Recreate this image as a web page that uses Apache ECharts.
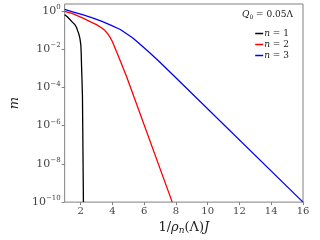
<!DOCTYPE html>
<html><head><meta charset="utf-8">
<script src="https://cdn.jsdelivr.net/npm/echarts@6/dist/echarts.min.js"></script>
<style>html,body{margin:0;padding:0;background:#fff}#c{width:320px;height:240px}</style>
</head><body><div id="c"></div>
<script>
// curves: x = 1/rho_n(Lambda) J, m values
const xN1 = [1.0, 1.15, 1.33, 1.5, 1.63, 1.74, 1.82, 1.88, 1.92, 1.97, 2.02, 2.04, 2.06, 2.09, 2.12, 2.18];
const mN1 = [0.63, 0.5, 0.35, 0.25, 0.195, 0.138, 0.089, 0.066, 0.05, 0.032, 0.0155, 0.0063, 0.0015, 2.5e-4, 3.2e-5, 1e-10];
const xN2 = [1.0, 1.5, 2.12, 2.7, 3.0, 3.31, 3.5, 3.71, 3.85, 4.0, 4.15, 4.3, 4.9, 7.77];
const mN2 = [0.93, 0.72, 0.43, 0.25, 0.19, 0.13, 0.1, 0.063, 0.042, 0.025, 0.0126, 0.0063, 3.6e-4, 1e-10];
const xN3 = [1.0, 1.5, 2.12, 2.7, 3.31, 3.9, 4.5, 4.9, 5.29, 5.6, 5.89, 6.3, 6.88, 7.87, 16.0];
const mN3 = [1.2, 0.89, 0.63, 0.44, 0.29, 0.18, 0.105, 0.063, 0.038, 0.023, 0.014, 0.0071, 0.0025, 4e-4, 1e-10];
const xTicks = [2, 4, 6, 8, 10, 12, 14, 16];
const yTicks = [1e-10, 1e-8, 1e-6, 1e-4, 1e-2, 1];
const seriesNames = ['n = 1', 'n = 2', 'n = 3'];
const colors = ['#000000', '#ff0000', '#0000ff'];

const pair = (xs, ys) => xs.map((x, i) => [x, ys[i]]);
const serif = 'DejaVu Serif';
const mk = (i, xs, ys) => ({
  name: seriesNames[i], type: 'line', data: pair(xs, ys), smooth: false,
  symbol: 'none', lineStyle: {color: colors[i], width: 1.3, join: 'round'}, itemStyle: {color: colors[i]}
});
const chart = echarts.init(document.getElementById('c'), null, {renderer: 'canvas'});
chart.setOption({
  animation: false,
  grid: {left: 51, right: 17, top: 4, bottom: 32, show: true, borderColor: '#808080', borderWidth: 1},
  xAxis: {
    type: 'value', min: 1, max: 16,
    name: '{r|1/}{i|ρ}{s|n}{r|(Λ)}{i|J}', nameLocation: 'middle', nameGap: 17,
    nameTextStyle: {rich: {
      r: {fontFamily: serif, fontSize: 13, color: '#222'},
      i: {fontFamily: serif, fontStyle: 'italic', fontSize: 13, color: '#222'},
      s: {fontFamily: serif, fontStyle: 'italic', fontSize: 9, color: '#222', verticalAlign: 'bottom', padding: [6, 0, 0, 0]}
    }},
    axisLine: {show: false},
    splitLine: {show: false},
    axisTick: {show: true, length: 3, lineStyle: {color: '#808080'}, customValues: xTicks},
    axisLabel: {customValues: xTicks, fontFamily: serif, fontSize: 10, color: '#444', margin: 4}
  },
  yAxis: {
    type: 'log', logBase: 10, min: 1e-10, max: 2.27,
    name: 'm', nameLocation: 'middle', nameGap: 38, nameRotate: 90,
    nameTextStyle: {fontFamily: serif, fontStyle: 'italic', fontSize: 13, color: '#222'},
    axisLine: {show: false},
    splitLine: {show: false},
    axisTick: {show: true, length: 3, lineStyle: {color: '#808080'}, customValues: yTicks},
    axisLabel: {
      customValues: yTicks, margin: 4,
      formatter: v => {
        const e = Math.round(Math.log10(v));
        return '{b|10}{e|' + (e < 0 ? '−' + (-e) : e) + '}';
      },
      rich: {
        b: {fontFamily: serif, fontSize: 11, color: '#444'},
        e: {fontFamily: serif, fontSize: 7, color: '#444', verticalAlign: 'top', padding: [0, 0, 7, 0]}
      }
    }
  },
  legend: {
    orient: 'vertical', right: 26, top: 24, itemWidth: 8, itemHeight: 1.5, itemGap: 2,
    icon: 'rect',
    data: seriesNames,
    formatter: n => '{i|n}{r| = ' + n.slice(4) + '}',
    textStyle: {padding: [0, 0, 0, -4], rich: {
      i: {fontFamily: serif, fontStyle: 'italic', fontSize: 9, color: '#222', height: 10},
      r: {fontFamily: serif, fontSize: 9, color: '#222', height: 10}
    }}
  },
  graphic: [{
    type: 'text', right: 27, top: 10,
    style: {
      text: '{i|Q}{s|0}{r| = 0.05Λ}',
      rich: {
        i: {fontFamily: serif, fontStyle: 'italic', fontSize: 9, fill: '#222'},
        s: {fontFamily: serif, fontSize: 6, fill: '#222', padding: [5, 0, 0, 0]},
        r: {fontFamily: serif, fontSize: 9, fill: '#222'}
      }
    }
  }],
  series: [mk(0, xN1, mN1), mk(1, xN2, mN2), mk(2, xN3, mN3)]
});
</script></body></html>
